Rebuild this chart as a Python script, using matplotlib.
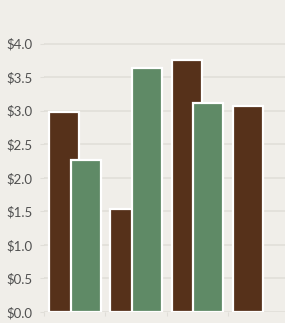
import matplotlib
matplotlib.use("Agg")
import matplotlib.pyplot as plt
import numpy as np

# values
groups = [0, 1, 2, 3]
brown_vals = [2.98, 1.53, 3.75, 3.07]
green_vals = [2.27, 3.64, 3.11]
ytick_vals = [0.0, 0.5, 1.0, 1.5, 2.0, 2.5, 3.0, 3.5, 4.0]
ytick_labels = ["$%.1f" % v for v in ytick_vals]

bg = "#f0eee9"
brown = "#56311a"
green = "#5f8a66"
grid_c = "#e0ded8"

plt.rcParams['font.family'] = ['Lato', 'DejaVu Sans']

fig = plt.figure(figsize=(2.85, 3.23), dpi=100, facecolor=bg)
ax = fig.add_axes([44 / 285, 11 / 323, 245 / 285, 312 / 323])
ax.set_facecolor(bg)

x = np.array(groups, dtype=float)
for i, v in enumerate(brown_vals):
    ax.bar(x[i] + 0.33, v, width=0.49, color=brown, edgecolor="white", linewidth=1.6, zorder=3)
    if i < len(green_vals):
        ax.bar(x[i] + 0.68, green_vals[i], width=0.49, color=green, edgecolor="white", linewidth=1.6, zorder=3)

ax.set_xlim(0, 4)
ax.set_ylim(0, 4.65)
ax.set_yticks(ytick_vals)
ax.set_yticklabels(ytick_labels)
ax.set_xticks([0, 1, 2, 3, 4])
ax.set_xticklabels([])
ax.grid(True, axis="y", color=grid_c, linewidth=1.1, zorder=0)
for s in ax.spines.values():
    s.set_visible(False)
ax.tick_params(axis="y", length=3, color=grid_c, labelcolor="#505050", labelsize=9.5, pad=5)
ax.tick_params(axis="x", length=3, color=grid_c)

fig.savefig("out.png", dpi=100, facecolor=bg)
